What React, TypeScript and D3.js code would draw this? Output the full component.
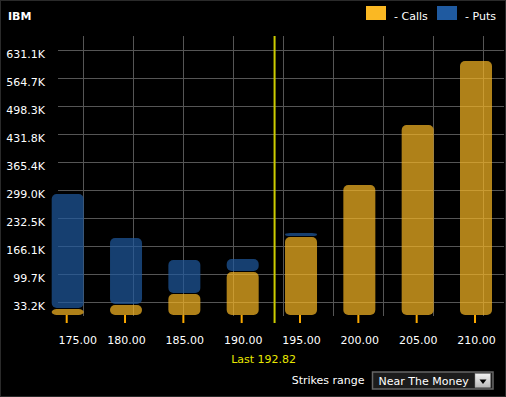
import React from "react";
import * as d3 from "d3";

const strikes = [175, 180, 185, 190, 195, 200, 205, 210];
const callsOI = [16600, 26100, 52200, 104400, 187400, 310800, 453200, 605000];
const putsOI = [272900, 159000, 80700, 30800, 9500, 0, 0, 0];
const yTickLabels = ["33.2K", "99.7K", "166.1K", "232.5K", "299.0K", "365.4K", "431.8K", "498.3K", "564.7K", "631.1K"];
const yMax = 664350;
const lastPrice = 192.82;
const symbol = "IBM";
const gridColumns = d3.range(9);

const W = 506;
const H = 397;
const plotLeft = 58;
const plotRight = 504;
const plotTop = 36;
const plotBottom = 316;

const CALL = "#FAB823";
const PUT = "#1F5AA0";
const FONT = "'DejaVu Sans', Verdana, sans-serif";

export default function App() {
  const x = d3.scalePoint<number>().domain(strikes).range([67.7, 476]);
  const step = x.step();
  const xLin = d3
    .scaleLinear()
    .domain([strikes[0], strikes[strikes.length - 1]])
    .range([x(strikes[0])!, x(strikes[strikes.length - 1])!]);
  const y = d3.scaleLinear().domain([0, yMax]).range([plotBottom, plotTop]);
  const gx = d3.scaleLinear().domain([0, 8]).range([83.3, 483.3]);
  const yStep = yMax / yTickLabels.length;
  const barW = 32;
  const lastX = xLin(lastPrice) - 1;

  return (
    <>
      <style>{`body{margin:0;background:#000}`}</style>
      <svg width={W} height={H} style={{ display: "block", fontFamily: FONT }}>
        <rect x={0} y={0} width={W} height={H} fill="#000" />
        <rect x={0.5} y={0.5} width={W - 1} height={H - 1} fill="none" stroke="#2a2a2a" strokeWidth={1} />

        {/* gridlines */}
        {yTickLabels.map((_, i) => {
          const yy = Math.round(y((i + 0.5) * yStep)) + 0.5;
          return <line key={"h" + i} x1={plotLeft} x2={plotRight} y1={yy} y2={yy} stroke="#555" strokeWidth={1} />;
        })}
        {gridColumns.map((i) => {
          const xx = Math.round(gx(i)) + 0.5;
          return <line key={"v" + i} x1={xx} x2={xx} y1={plotTop} y2={plotBottom} stroke="#555" strokeWidth={1} />;
        })}

        {/* y labels */}
        {yTickLabels.map((lab, i) => (
          <text key={"yl" + i} x={45} y={y((i + 0.5) * yStep) + 8} fill="#fff" fontSize={11} textAnchor="end">
            {lab}
          </text>
        ))}

        {/* bars */}
        {strikes.map((s, i) => {
          const cx = x(s)!;
          const c = callsOI[i];
          const p = putsOI[i];
          return (
            <g key={"b" + s}>
              {c > 0 && (
                <rect
                  x={cx - barW / 2}
                  y={y(c)}
                  width={barW}
                  height={Math.max(0, y(0) - y(c) - 1)}
                  rx={5}
                  ry={5}
                  fill={CALL}
                  fillOpacity={0.7}
                />
              )}
              {p > 0 && (
                <rect
                  x={cx - barW / 2}
                  y={y(c + p)}
                  width={barW}
                  height={Math.max(0, y(c) - y(c + p) - 1)}
                  rx={5}
                  ry={5}
                  fill={PUT}
                  fillOpacity={0.7}
                />
              )}
              <line x1={cx - 1} x2={cx - 1} y1={plotBottom - 1} y2={plotBottom + 7} stroke="#F9A800" strokeWidth={2} />
            </g>
          );
        })}

        {/* last price line */}
        <line x1={lastX} x2={lastX} y1={plotTop} y2={plotBottom + 7} stroke="#CCCC00" strokeWidth={2} />

        {/* x labels */}
        {strikes.map((s) => {
          const cx = Math.max(x(s)! + 0.5, plotLeft + 19.7);
          return (
            <text key={"xl" + s} x={cx} y={344} fill="#fff" fontSize={11} textAnchor="middle">
              {s.toFixed(2)}
            </text>
          );
        })}

        <text x={lastX - 11} y={363} fill="#E8E800" fontSize={11} textAnchor="middle">
          {"Last " + lastPrice.toFixed(2)}
        </text>

        {/* title */}
        <text x={8} y={19.5} fill="#fff" fontSize={11} fontWeight="bold">
          {symbol}
        </text>

        {/* legend */}
        <rect x={366} y={6} width={20} height={14} fill={CALL} />
        <text x={394} y={19.5} fill="#fff" fontSize={11}>
          - Calls
        </text>
        <rect x={437} y={6} width={20} height={14} fill={PUT} />
        <text x={465} y={19.5} fill="#fff" fontSize={11}>
          - Puts
        </text>

        {/* strikes range control */}
        <text x={291.7} y={384} fill="#fff" fontSize={11}>
          Strikes range
        </text>
        <defs>
          <linearGradient id="btnGrad" x1="0" y1="0" x2="0" y2="1">
            <stop offset="0" stopColor="#f2f2f2" />
            <stop offset="1" stopColor="#b8b8b8" />
          </linearGradient>
        </defs>
        <rect x={372.5} y={372} width={120.5} height={17} fill="#1c1c1c" stroke="#666" strokeWidth={1.5} />
        <text x={378.5} y={384.5} fill="#fff" fontSize={11}>
          Near The Money
        </text>
        <rect x={475} y={373.5} width={15.5} height={14} fill="url(#btnGrad)" stroke="#888" strokeWidth={0.5} />
        <path d="M479.5,379.5 L486.5,379.5 L483,384 Z" fill="#000" />
      </svg>
    </>
  );
}
